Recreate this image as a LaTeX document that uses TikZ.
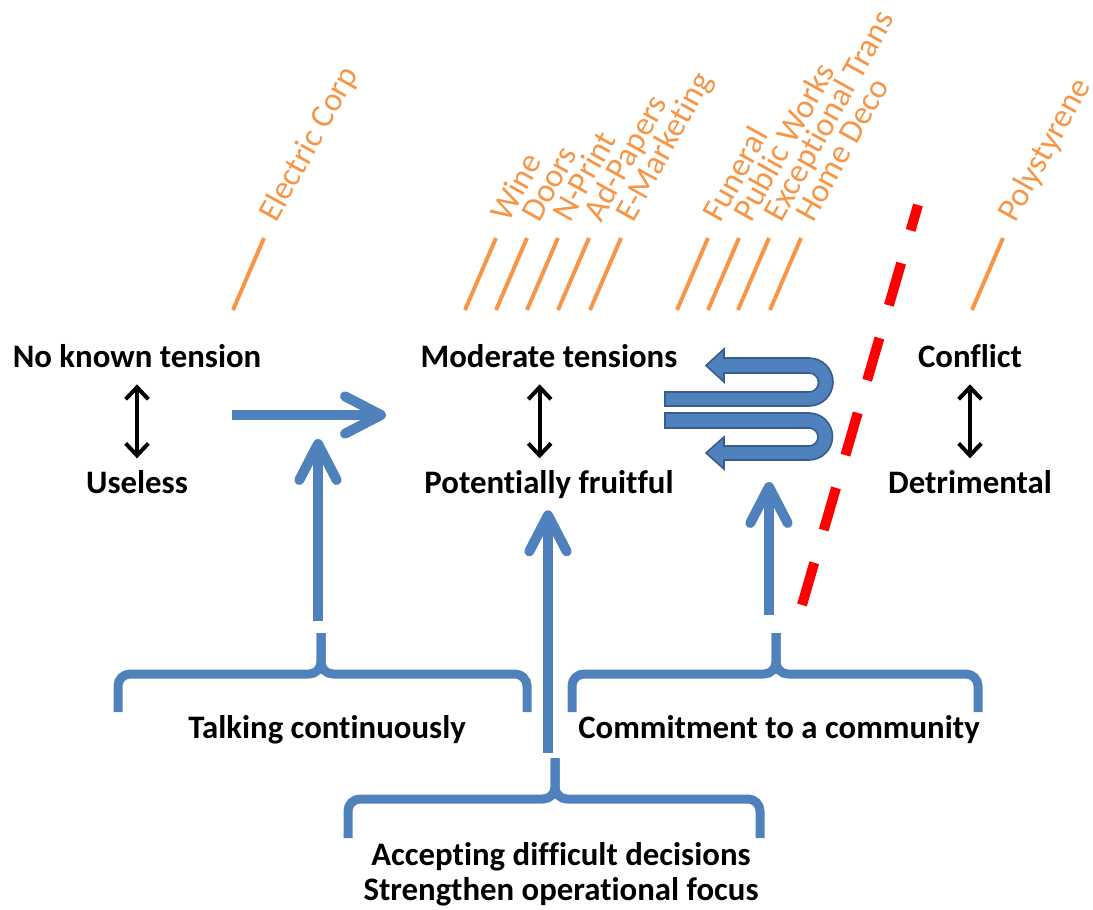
\documentclass[tikz,border=0pt]{standalone}
\usepackage{fontspec}
\setmainfont{Carlito}[Ligatures=NoCommon]
\usetikzlibrary{arrows.meta}
\definecolor{bluecol}{HTML}{4F81BD}
\definecolor{blueedge}{HTML}{385D8A}
\definecolor{orgcol}{HTML}{F79646}
\tikzset{
    lbl/.style = {font=\fontsize{24.6}{30}\selectfont\bfseries, inner sep=0pt, anchor=base},
    firm/.style = {font=\fontsize{25}{30}\selectfont, text=orgcol, rotate=61, anchor=base west, inner sep=0pt},
    tick/.style = {draw=orgcol, line width=3pt},
    dbl/.style = {draw, line width=3pt, {Straight Barb[length=9pt,width=17pt]}-{Straight Barb[length=9pt,width=17pt]}},
    bluearrow/.style = {draw=bluecol, line width=7.5pt, -{Straight Barb[length=27pt,width=28pt,round]}},
    brc/.style = {draw=bluecol, line width=6.75pt, rounded corners=9pt},
    uturn/.style = {fill=bluecol, draw=blueedge, line width=1.2pt},
    limit/.style = {draw=red, line width=7.5pt, dash pattern=on 33pt off 25.5pt}
}
\newcommand{\firmtick}[3]{%
    \draw[tick] (#2,310) -- ++(31,-72);
    \node[firm] (#1) at (#2+43,224) {#3};
}

\begin{document}
\begin{tikzpicture}[x=0.75pt, y=-0.75pt]
        \useasboundingbox (0,0) rectangle (1093,910);
        \firmtick{elec}{233}{Electric Corp}
        \firmtick{wine}{465}{Wine}
        \firmtick{doors}{496}{Doors}
        \firmtick{nprint}{527}{N-Print}
        \firmtick{adpap}{558}{Ad-Papers}
        \firmtick{emark}{590}{E-Marketing}
        \firmtick{funeral}{677}{Funeral}
        \firmtick{pubw}{708}{Public Works}
        \firmtick{exctr}{738}{Exceptional Trans}
        \firmtick{homed}{770}{Home Deco}
        \firmtick{poly}{972}{Polystyrene}
        \node[lbl] (notens) at (137,367) {No known tension};
        \node[lbl] (useless) at (137,493) {Useless};
        \node[lbl] (moderate) at (549,367) {Moderate tensions};
        \node[lbl] (fruitful) at (549,493) {Potentially fruitful};
        \node[lbl] (conflict) at (970,367) {Conflict};
        \node[lbl] (detrim) at (970,493) {Detrimental};
        \draw[dbl] ([yshift=-13pt]notens.base) -- ([yshift=26pt]useless.base);
        \draw[dbl] ([xshift=-7pt,yshift=-13pt]moderate.base) -- ([xshift=-7pt,yshift=26pt]fruitful.base);
        \draw[dbl] ([yshift=-13pt]conflict.base) -- ([yshift=26pt]detrim.base);
        \node[lbl] (talking) at (327,738) {Talking continuously};
        \node[lbl] (commit) at (779,738) {Commitment to a community};
        \node[lbl] (accept) at (561,865) {Accepting difficult decisions};
        \node[lbl] (strength) at (561,900) {Strengthen operational focus};
        \coordinate (talktip) at (321,633);
        \coordinate (committip) at (776,633);
        \coordinate (accepttip) at (555,758);
        \draw[brc] (118,712) -- (118,674) -- (talktip |- 0,674) -- (talktip);
        \draw[brc] (527,712) -- (527,674) -- (talktip |- 0,674) -- (talktip);
        \draw[brc] (572,712) -- (572,674) -- (committip |- 0,674) -- (committip);
        \draw[brc] (978,712) -- (978,674) -- (committip |- 0,674) -- (committip);
        \draw[brc] (348,838) -- (348,799) -- (accepttip |- 0,799) -- (accepttip);
        \draw[brc] (760,838) -- (760,799) -- (accepttip |- 0,799) -- (accepttip);
        \coordinate (talkfoot) at (318,621);
        \coordinate (talkhead) at (318,439);
        \coordinate (acceptfoot) at (548,753);
        \coordinate (commitfoot) at (769,615);
        \coordinate (commithead) at (769,482);
        \coordinate (flowstart) at (232,415);
        \coordinate (flowhead) at (386,415);
        \draw[bluearrow] (talkfoot) -- (talkhead);
        \draw[bluearrow] (acceptfoot) -- ([xshift=-0.75pt,yshift=-13pt]fruitful.base);
        \draw[bluearrow] (commitfoot) -- (commithead);
        \draw[bluearrow] (flowstart) -- (flowhead);
        \draw[uturn] (665,392) -- (809,392) arc[start angle=90, end angle=-90, radius=9.5]
            -- (724,373) -- (724,382) -- (706,365.5) -- (724,349) -- (724,358) -- (809,358)
            arc[start angle=-90, end angle=90, radius=24] -- (665,406) -- cycle;
        \draw[uturn] (665,413) -- (809,413) arc[start angle=-90, end angle=90, radius=23.5]
            -- (724,460) -- (724,469) -- (706,453) -- (724,437) -- (724,446) -- (809,446)
            arc[start angle=90, end angle=-90, radius=9] -- (665,428) -- cycle;
        \coordinate (limitlow) at (802,605);
        \coordinate (limithigh) at (918,205);
        \draw[limit] (limitlow) -- (limithigh);
    \end{tikzpicture}
\end{document}
